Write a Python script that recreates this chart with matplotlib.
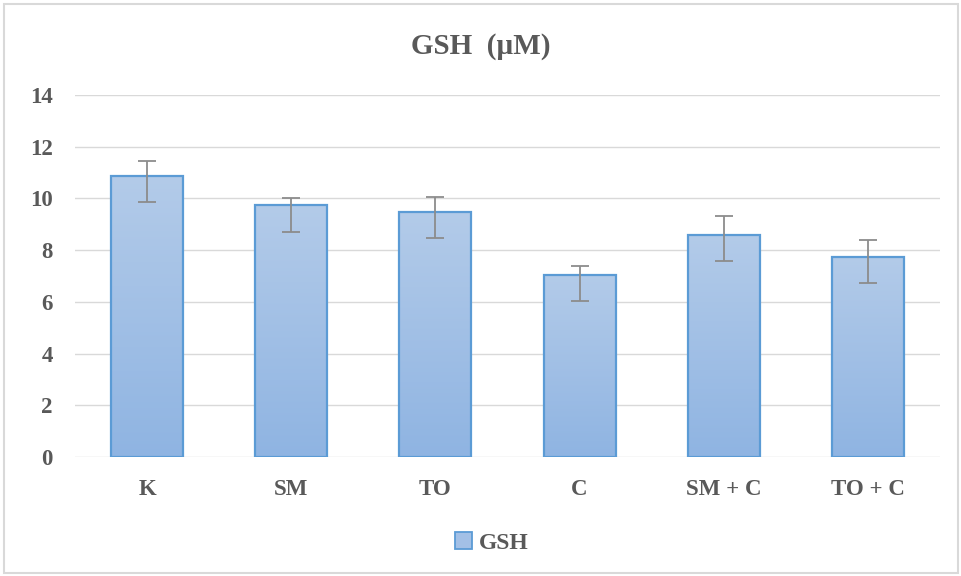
import matplotlib
matplotlib.use("Agg")
import matplotlib.pyplot as plt
import numpy as np
from matplotlib.patches import Rectangle, Patch
from matplotlib.colors import LinearSegmentedColormap

categories = ["K", "SM", "TO", "C", "SM + C", "TO + C"]
values = [10.85, 9.73, 9.47, 7.05, 8.60, 7.74]
err_upper = [0.60, 0.27, 0.58, 0.32, 0.72, 0.67]
err_lower = [0.99, 1.01, 1.01, 1.01, 1.03, 1.01]
yticks = [0, 2, 4, 6, 8, 10, 12, 14]

plt.rcParams['font.family'] = ['Liberation Serif', 'DejaVu Serif']
txt = '#595959'

fig = plt.figure(figsize=(9.61, 5.76), dpi=100)
ax = fig.add_axes([75/961, 1-457/576, 865/961, (457-95)/576])

x = np.arange(len(categories))
width = 0.5
bars = ax.bar(x, values, width=width, color='none', edgecolor='#5b9bd5', linewidth=1.6, zorder=3)

grad = np.linspace(0, 1, 256).reshape(-1, 1)
cmap = LinearSegmentedColormap.from_list('g', ['#8fb4e2', '#b3cbe9'])
for b in bars:
    bx, by = b.get_x(), b.get_y()
    bw, bh = b.get_width(), b.get_height()
    im = ax.imshow(grad, extent=[bx, bx+bw, by, by+bh], origin='lower', cmap=cmap,
                   aspect='auto', zorder=2)
    im.set_clip_path(b)

ax.errorbar(x, values, yerr=[err_lower, err_upper], fmt='none', ecolor='#8c8c8c',
            elinewidth=1.3, capsize=6.5, capthick=1.3, zorder=4)

ax.set_xlim(-0.5, len(categories)-0.5)
ax.set_ylim(0, 14)
ax.set_yticks(yticks)
ax.set_xticks(x)
ax.set_xticklabels(categories)
for lab in ax.get_xticklabels() + ax.get_yticklabels():
    lab.set_fontweight('bold')
    lab.set_color(txt)
    lab.set_fontsize(16.5)
ax.tick_params(axis='both', length=0)
ax.tick_params(axis='y', pad=16)
ax.tick_params(axis='x', pad=16)
ax.grid(axis='y', color='#d9d9d9', linewidth=1, zorder=0)
ax.set_axisbelow(True)
for s in ax.spines.values():
    s.set_visible(False)

fig.text(0.5, 1-47/576, 'GSH  (µM)', ha='center', va='center', fontsize=21,
         fontweight='bold', color=txt)

handle = Patch(facecolor='#a3c0e6', edgecolor='#5b9bd5', linewidth=1.3)
leg = fig.legend([handle], ['GSH'], loc='center', bbox_to_anchor=(492/961, 1-543/576),
                 frameon=False, handlelength=0.7, handleheight=0.7, handletextpad=0.3,
                 prop={'weight': 'bold', 'size': 17})
for t in leg.get_texts():
    t.set_color(txt)

fig.patches.append(Rectangle((4/961, 3/576), 954/961, 569/576, transform=fig.transFigure,
                             fill=False, edgecolor='#d9d9d9', linewidth=1.5))

fig.savefig('out.png', dpi=100)
